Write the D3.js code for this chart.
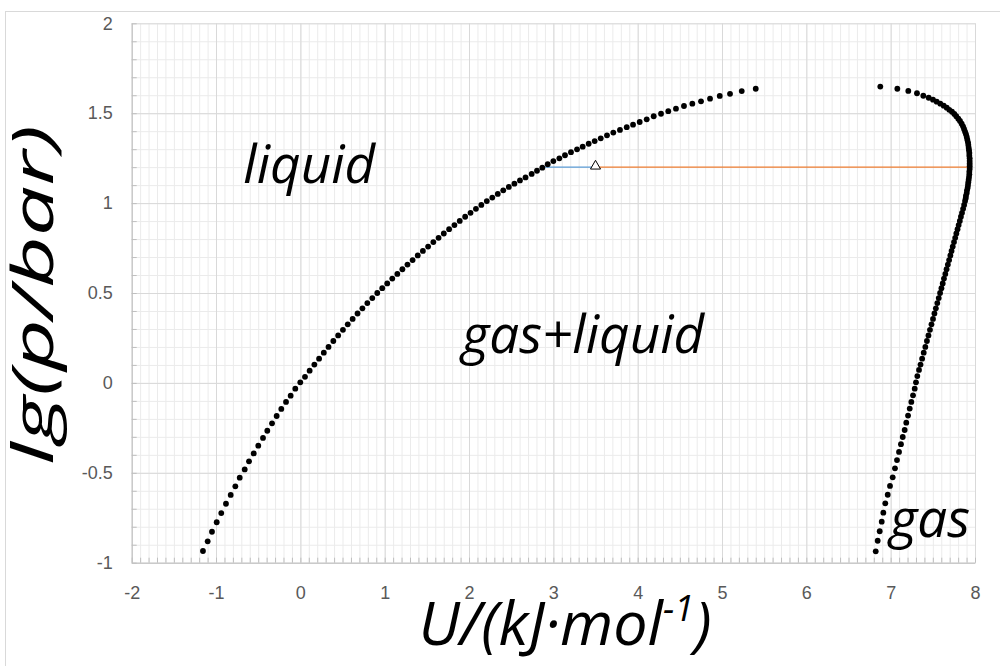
<!DOCTYPE html>
<html>
<head>
<meta charset="utf-8">
<script src="https://cdn.jsdelivr.net/npm/d3@7"></script>
<style>
  body { margin: 0; background: #fff; }
  svg { display: block; }
</style>
</head>
<body>
<div id="chart"></div>
<script>
// saturated liquid branch
const liquidU = [
  -1.155, -1.099, -1.048, -0.992, -0.938, -0.882, -0.826, -0.771, -0.719, -0.660,
  -0.609, -0.553, -0.499, -0.443, -0.392, -0.336, -0.281, -0.226, -0.170, -0.115,
  -0.060, -0.001, 0.055, 0.110, 0.166, 0.222, 0.278, 0.334, 0.391, 0.448,
  0.505, 0.562, 0.620, 0.678, 0.736, 0.794, 0.853, 0.912, 0.971, 1.030,
  1.090, 1.150, 1.210, 1.270, 1.331, 1.392, 1.453, 1.515, 1.577, 1.639,
  1.701, 1.764, 1.827, 1.890, 1.954, 2.018, 2.082, 2.146, 2.211, 2.276,
  2.341, 2.406, 2.472, 2.538, 2.604, 2.670, 2.743, 2.806, 2.869, 2.933,
  3.000, 3.071, 3.138, 3.209, 3.281, 3.348, 3.419, 3.490, 3.562, 3.636,
  3.711, 3.790, 3.870, 3.945, 4.024, 4.107, 4.190, 4.277, 4.363, 4.454,
  4.549, 4.648, 4.751, 4.858, 4.973, 5.095, 5.234, 5.400
];
const liquidP = [
  -0.935, -0.881, -0.828, -0.775, -0.724, -0.672, -0.623, -0.575, -0.527, -0.481,
  -0.436, -0.392, -0.349, -0.306, -0.266, -0.225, -0.184, -0.145, -0.106, -0.071,
  -0.032, 0.003, 0.034, 0.068, 0.102, 0.135, 0.168, 0.200, 0.233, 0.264,
  0.295, 0.326, 0.356, 0.386, 0.415, 0.444, 0.472, 0.500, 0.527, 0.553,
  0.580, 0.606, 0.632, 0.658, 0.683, 0.709, 0.734, 0.758, 0.783, 0.807,
  0.831, 0.855, 0.878, 0.901, 0.924, 0.946, 0.968, 0.990, 1.011, 1.031,
  1.051, 1.071, 1.090, 1.108, 1.126, 1.143, 1.162, 1.180, 1.197, 1.216,
  1.234, 1.249, 1.266, 1.283, 1.299, 1.314, 1.330, 1.345, 1.360, 1.377,
  1.392, 1.407, 1.422, 1.436, 1.451, 1.466, 1.483, 1.497, 1.511, 1.525,
  1.540, 1.553, 1.566, 1.581, 1.596, 1.608, 1.623, 1.636
];

// saturated gas branch, top to bottom
const gasU = [
  6.877, 7.079, 7.209, 7.312, 7.387, 7.451, 7.502, 7.546, 7.589, 7.629,
  7.665, 7.695, 7.727, 7.755, 7.778, 7.802, 7.822, 7.842, 7.858, 7.870,
  7.882, 7.893, 7.902, 7.909, 7.917, 7.921, 7.925, 7.929, 7.933, 7.933,
  7.937, 7.937, 7.937, 7.937, 7.937, 7.933, 7.933, 7.929, 7.925, 7.921,
  7.917, 7.913, 7.905, 7.902, 7.893, 7.890, 7.882, 7.871, 7.859, 7.846,
  7.833, 7.820, 7.806, 7.793, 7.779, 7.765, 7.751, 7.736, 7.722, 7.708,
  7.693, 7.678, 7.663, 7.648, 7.632, 7.617, 7.602, 7.586, 7.570, 7.553,
  7.536, 7.519, 7.502, 7.484, 7.466, 7.448, 7.430, 7.411, 7.392, 7.373,
  7.354, 7.336, 7.316, 7.300, 7.285, 7.265, 7.245, 7.226, 7.206, 7.185,
  7.166, 7.143, 7.122, 7.099, 7.075, 7.051, 7.024, 6.992, 6.965, 6.936,
  6.913, 6.894, 6.870, 6.846, 6.823
];
const gasP = [
  1.648, 1.636, 1.624, 1.611, 1.597, 1.586, 1.575, 1.564, 1.553, 1.542,
  1.531, 1.519, 1.508, 1.496, 1.483, 1.469, 1.457, 1.442, 1.427, 1.412,
  1.397, 1.383, 1.368, 1.353, 1.338, 1.323, 1.308, 1.294, 1.279, 1.264,
  1.249, 1.234, 1.219, 1.205, 1.190, 1.175, 1.160, 1.145, 1.130, 1.116,
  1.101, 1.086, 1.071, 1.056, 1.041, 1.027, 1.012, 0.990, 0.968, 0.946,
  0.924, 0.901, 0.878, 0.855, 0.831, 0.807, 0.783, 0.758, 0.734, 0.709,
  0.683, 0.658, 0.632, 0.606, 0.580, 0.553, 0.527, 0.500, 0.472, 0.444,
  0.415, 0.386, 0.356, 0.326, 0.295, 0.264, 0.233, 0.200, 0.168, 0.135,
  0.102, 0.072, 0.038, 0.003, -0.032, -0.069, -0.106, -0.143, -0.182, -0.221,
  -0.262, -0.301, -0.341, -0.384, -0.429, -0.475, -0.525, -0.573, -0.622, -0.670,
  -0.722, -0.772, -0.825, -0.878, -0.937
];

// tie line through the state point
const tieLiquidU = [2.869, 3.5];
const tieGasU = [3.5, 7.937];
const tieP = 1.2;
const stateU = 3.5;
const stateP = 1.2;

const xTicks = [-2, -1, 0, 1, 2, 3, 4, 5, 6, 7, 8];
const yTicks = [-1, -0.5, 0, 0.5, 1, 1.5, 2];

const regionLabels = [
  { text: "liquid", u: -0.677, p: 1.113 },
  { text: "gas+liquid", u: 1.913, p: 0.165 },
  { text: "gas", u: 6.99, p: -0.857 }
];

const width = 1000;
const height = 666;
const margin = { top: 23.3, right: 25, bottom: 103.3, left: 131.7 };
const w = width - margin.left - margin.right;
const h = height - margin.top - margin.bottom;

const svg = d3.select("#chart").append("svg")
  .attr("width", width)
  .attr("height", height);

// chart frame
svg.append("rect")
  .attr("x", 5.5).attr("y", 11.5)
  .attr("width", 1010).attr("height", 700)
  .attr("fill", "none")
  .attr("stroke", "#d9d9d9");

const g = svg.append("g")
  .attr("transform", `translate(${margin.left},${margin.top})`);

const x = d3.scaleLinear().domain([-2, 8]).range([0, w]);
const y = d3.scaleLinear().domain([-1, 2]).range([h, 0]);

const minorX = d3.range(-20, 81).map(d => d / 10);
const minorY = d3.range(-10, 21).map(d => d / 10);

// minor grid
g.append("g")
  .attr("class", "grid minor")
  .attr("transform", `translate(0,${h})`)
  .call(d3.axisBottom(x).tickValues(minorX).tickSize(-h).tickFormat(""));
g.append("g")
  .attr("class", "grid minor")
  .call(d3.axisLeft(y).tickValues(minorY).tickSize(-w).tickFormat(""));

// major grid
g.append("g")
  .attr("class", "grid major")
  .attr("transform", `translate(0,${h})`)
  .call(d3.axisBottom(x).tickValues(xTicks).tickSize(-h).tickFormat(""));
g.append("g")
  .attr("class", "grid major")
  .call(d3.axisLeft(y).tickValues(yTicks).tickSize(-w).tickFormat(""));

g.selectAll(".grid .domain").remove();
g.selectAll(".grid.minor line").attr("stroke", "#ebebeb");
g.selectAll(".grid.major line").attr("stroke", "#d9d9d9");

// axis lines with inside minor ticks
const axX = g.append("g")
  .attr("transform", `translate(0,${h})`)
  .call(d3.axisBottom(x).tickValues(minorX).tickSize(-5).tickSizeOuter(0).tickFormat(""));
const axY = g.append("g")
  .call(d3.axisLeft(y).tickValues(minorY).tickSize(-5).tickSizeOuter(0).tickFormat(""));
[axX, axY].forEach(a => {
  a.selectAll("line").attr("stroke", "#bfbfbf");
  a.select(".domain").attr("stroke", "#bfbfbf");
});

// tick labels
const labX = g.append("g")
  .attr("transform", `translate(0,${h})`)
  .call(d3.axisBottom(x).tickValues(xTicks).tickSize(0).tickPadding(20)
    .tickFormat(d => String(d)));
const labY = g.append("g")
  .call(d3.axisLeft(y).tickValues(yTicks).tickSize(0).tickPadding(19)
    .tickFormat(d => String(d)));
[labX, labY].forEach(a => {
  a.select(".domain").remove();
  a.selectAll("text")
    .attr("fill", "#595959")
    .style("font-family", "'Liberation Sans', Arial, sans-serif")
    .style("font-size", "18px");
});
labX.selectAll("text").attr("dy", "0.9em");

// tie line
const line = d3.line().x(d => x(d[0])).y(d => y(d[1]));
g.append("path")
  .datum(tieLiquidU.map(u => [u, tieP]))
  .attr("fill", "none")
  .attr("stroke", "#5b9bd5")
  .attr("stroke-width", 1.3)
  .attr("d", line);
g.append("path")
  .datum(tieGasU.map(u => [u, tieP]))
  .attr("fill", "none")
  .attr("stroke", "#ed7d31")
  .attr("stroke-width", 1.3)
  .attr("d", line);

// saturation points
const liquid = d3.zip(liquidU, liquidP);
const gas = d3.zip(gasU, gasP);
g.append("g")
  .selectAll("circle")
  .data(liquid.concat(gas))
  .join("circle")
  .attr("cx", d => x(d[0]))
  .attr("cy", d => y(d[1]))
  .attr("r", 2.9)
  .attr("fill", "#000");

// state point
g.append("path")
  .attr("d", d3.symbol(d3.symbolTriangle, 44)())
  .attr("transform", `translate(${x(stateU)},${y(stateP) - 1})`)
  .attr("fill", "#fff")
  .attr("stroke", "#000")
  .attr("stroke-width", 1);

// region labels
g.selectAll(".region")
  .data(regionLabels)
  .join("text")
  .attr("class", "region")
  .attr("x", d => x(d.u))
  .attr("y", d => y(d.p))
  .style("font-family", "'Open Sans', sans-serif")
  .style("font-style", "italic")
  .style("font-size", "53px")
  .attr("fill", "#000")
  .text(d => d.text);

// axis titles
const xTitle = svg.append("text")
  .attr("x", 565)
  .attr("y", 645)
  .attr("text-anchor", "middle")
  .style("font-family", "'Open Sans', sans-serif")
  .style("font-style", "italic")
  .style("font-size", "61px");
xTitle.append("tspan").text("U/(kJ·mol");
xTitle.append("tspan").attr("dy", -24).style("font-size", "36px").text("-1");
xTitle.append("tspan").attr("dy", 24).text(")");

svg.append("text")
  .attr("transform", `translate(53,295) rotate(-90)`)
  .attr("text-anchor", "middle")
  .attr("textLength", 340)
  .attr("lengthAdjust", "spacingAndGlyphs")
  .style("font-family", "'Open Sans', sans-serif")
  .style("font-style", "italic")
  .style("font-size", "56px")
  .text("lg(p/bar)");
</script>
</body>
</html>
